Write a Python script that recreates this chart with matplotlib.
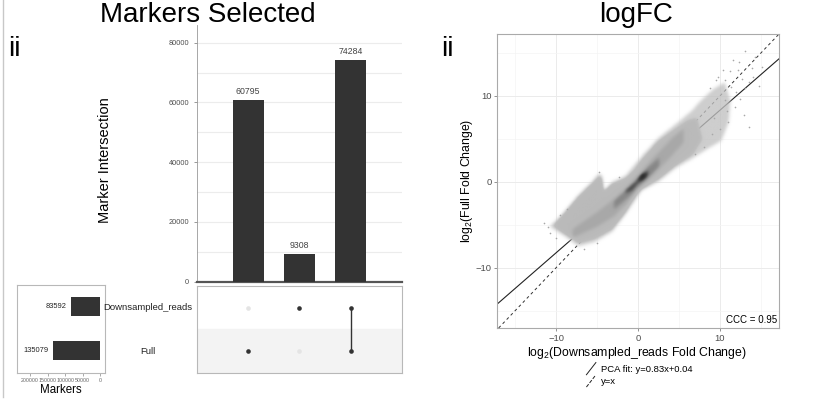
import numpy as np
import matplotlib
matplotlib.use('Agg')
import matplotlib.pyplot as plt
from matplotlib.lines import Line2D
from matplotlib.path import Path
from matplotlib.legend_handler import HandlerBase

plt.rcParams['font.family'] = ['Liberation Sans', 'DejaVu Sans']
plt.rcParams['mathtext.default'] = 'regular'

# ---- UpSet data ----
intersect_counts = [60795, 9308, 74284]
set_names = ['Full', 'Downsampled_reads']          # row 0 bottom, row 1 top
set_sizes = [135079, 83592]
# membership[col] = rows that are in the intersection
membership = [[0], [1], [0, 1]]

# ---- logFC data (cloud outlines) ----
fit_slope, fit_intercept = 0.83, 0.04
ccc = 0.95

sparse_upper_x = [-10.8, -9.3, -7.3, -5.7, -4.8, -4.4, -4.2, -3.2, -1.6, 0.4, 2.4, 4.5, 6.5, 7.5, 9.1, 10.5]
sparse_upper_y = [-5.2, -3.8, -1.5, 0.0, 1.0, 0.6, -1.0, 0.0, 0.7, 3.0, 5.1, 6.7, 8.3, 9.4, 10.8, 11.6]
sparse_lower_x = [-10.8, -8.9, -7.3, -5.3, -3.2, -1.6, 0.4, 2.4, 4.5, 6.5, 8.5, 10.1, 11.0, 11.2]
sparse_lower_y = [-5.2, -6.4, -7.5, -7.0, -5.8, -3.8, -1.0, 0.0, 1.6, 2.7, 3.9, 4.8, 7.0, 9.5]

dense_upper_x = [-10.3, -9.3, -8.3, -7.3, -5.7, -4.8, -4.5, -4.25, -3.6, -3.2, -1.6, -0.5, 0.4, 2.4, 4.5, 6.0, 7.0]
dense_upper_y = [-5.1, -4.0, -2.9, -1.8, -0.3, 0.6, 0.4, -1.2, -0.6, -0.3, 0.3, 1.2, 2.4, 4.6, 6.0, 7.0, 7.3]
dense_lower_x = [-10.3, -8.9, -7.3, -5.3, -3.2, -1.6, -0.4, 0.4, 2.4, 4.5, 6.5, 7.6]
dense_lower_y = [-5.1, -6.0, -7.0, -6.5, -5.4, -3.5, -1.6, -0.8, 0.4, 2.0, 3.3, 5.0]

band_x = [-8.0, -5.0, -3.0, -1.5, 0.0, 2.0, 4.0, 5.5]
band_lo = [-6.5, -5.2, -4.0, -2.6, -0.8, 1.0, 3.0, 4.6]
band_hi = [-5.5, -3.5, -2.0, -0.8, 0.8, 3.0, 5.0, 6.2]

core1_x = [-3.0, -1.0, 0.0, 1.0, 2.5]
core1_lo = [-3.2, -1.6, -0.5, 0.2, 1.8]
core1_hi = [-2.2, -0.4, 0.5, 1.6, 2.8]
core2_x = [-1.6, -0.8, 0.0, 0.6, 1.2]
core2_lo = [-1.3, -1.0, -0.1, 0.2, 0.9]
core2_hi = [-0.9, -0.3, 0.3, 1.1, 1.3]
core3_x = [-0.1, 0.4, 1.0]
core3_lo = [0.25, 0.3, 0.75]
core3_hi = [0.35, 0.95, 0.85]

out_x = [12.3, 13.0, 11.6, 13.9, 15.1, 13.5, 14.8, 12.7, 11.2, 10.6, 12.0, 11.8, 13.1, 10.4, 9.8,
         14.0, 12.5, 11.0, 10.6, 9.5, 13.6, 11.4, 10.9, 12.9, 14.3, 8.8, 9.3, 10.0, 9.0, 8.0, 7.0, 12.2,
         -11.0, -10.7, -10.0, -6.6, -5.0, -9.5, -8.6, -4.8, -2.3, -11.5]
out_y = [14.0, 15.2, 14.2, 13.2, 13.4, 6.4, 11.1, 12.0, 12.9, 11.8, 10.4, 8.7, 10.9, 13.0, 12.2,
         12.2, 9.6, 7.0, 9.5, 11.8, 11.6, 11.0, 8.2, 7.8, 14.5, 10.9, 7.4, 6.2, 5.6, 4.0, 3.2, 13.0,
         -5.3, -6.0, -6.5, -7.8, -7.1, -3.8, -3.2, 1.2, 0.6, -4.8]

fig = plt.figure(figsize=(8.17, 4.03), dpi=100)

# ================= UpSet panel =================
dark = '#333333'
ax_bar = fig.add_axes([0.2411, 0.301, 0.2509, 0.637])
cols = [1, 2, 3]
ax_bar.bar(cols, intersect_counts, width=0.6, color=dark, zorder=3)
for c, v in zip(cols, intersect_counts):
    ax_bar.annotate(str(v), (c, v), xytext=(0, 3), textcoords='offset points',
                    ha='center', va='bottom', fontsize=6.3, color='#444444')
ax_bar.set_xlim(0, 4)
ax_bar.set_ylim(0, 85900)
ax_bar.set_yticks([0, 20000, 40000, 60000, 80000])
ax_bar.set_yticks(range(10000, 85000, 20000), minor=True)
ax_bar.grid(axis='y', which='both', color='#ececec', lw=0.8, zorder=0)
ax_bar.set_xticks([])
ax_bar.tick_params(axis='y', labelsize=5.3, labelcolor='#4d4d4d', color='#888888', length=2, width=0.6)
ax_bar.tick_params(axis='y', which='minor', length=0)
for s in ['top', 'right']:
    ax_bar.spines[s].set_visible(False)
ax_bar.spines['left'].set_color('#999999')
ax_bar.spines['left'].set_linewidth(0.6)
ax_bar.spines['bottom'].set_color('#555555')
ax_bar.spines['bottom'].set_linewidth(1.6)

ax_mat = fig.add_axes([0.2411, 0.0744, 0.2509, 0.2166])
ax_mat.set_xlim(0, 4)
ax_mat.set_ylim(-0.5, 1.5)
ax_mat.axhspan(-0.5, 0.5, color='#f3f3f3', zorder=0)
for c, rows in zip(cols, membership):
    for r in range(len(set_names)):
        ax_mat.scatter(c, r, s=11, color=dark if r in rows else '#e4e4e4', zorder=3, lw=0)
    if len(rows) > 1:
        ax_mat.plot([c, c], [min(rows), max(rows)], color=dark, lw=1.0, zorder=2)
ax_mat.set_xticks([])
ax_mat.set_yticks([])
for s in ax_mat.spines.values():
    s.set_color('#b8b8b8')
    s.set_linewidth(0.8)

ax_set = fig.add_axes([0.0208, 0.0752, 0.1077, 0.2176])
ax_set.barh(range(len(set_names)), set_sizes, height=0.43, color=dark)
for r, v in enumerate(set_sizes):
    ax_set.annotate(str(v), (v, r), xytext=(-3, 0), textcoords='offset points',
                    ha='right', va='center', fontsize=5.4, color='#222222')
ax_set.set_xlim(237000, -13400)
ax_set.set_ylim(-0.5, 1.5)
ax_set.set_xticks([200000, 150000, 100000, 50000, 0])
ax_set.set_yticks([])
ax_set.tick_params(axis='x', labelsize=3.8, labelcolor='#666666', color='#888888', length=2, width=0.5, pad=1.5)
for s in ax_set.spines.values():
    s.set_color('#b8b8b8')
    s.set_linewidth(0.8)

for r, name in enumerate(set_names):
    y = ax_mat.transData.transform((0, r))[1]
    fy = fig.transFigure.inverted().transform((0, y))[1]
    fig.text(0.181, fy, name, ha='center', va='center', fontsize=6.8, color='#222222')

fig.text(0.075, 0.032, 'Markers', ha='center', va='center', fontsize=8.3)
fig.text(0.129, 0.603, 'Marker Intersection', rotation=90, ha='center', va='center', fontsize=10.5)
fig.text(0.254, 0.962, 'Markers Selected', ha='center', va='center', fontsize=20)
fig.text(0.018, 0.878, 'ii', ha='center', va='center', fontsize=20)
fig.add_artist(Line2D([0.004, 0.004], [0.015, 1.0], color='#c8c8c8', lw=1.0, transform=fig.transFigure))

# ================= logFC panel =================
xlim, ylim = (-17.2, 17.2), (-17.0, 17.2)
ax = fig.add_axes([0.6083, 0.1861, 0.3452, 0.7295])

ax.axline((0, 0), slope=1, color='#333333', lw=0.7, ls=(0, (3, 3)), zorder=2)
ax.axline((0, fit_intercept), slope=fit_slope, color='#222222', lw=0.8, zorder=2)

# rasterise the read-off outlines into a smoothed density image
gx = np.linspace(xlim[0], xlim[1], 520)
gy = np.linspace(ylim[0], ylim[1], 520)
XX, YY = np.meshgrid(gx, gy)
pts = np.column_stack([XX.ravel(), YY.ravel()])


def inside(xs, ys):
    return Path(np.column_stack([xs, ys])).contains_points(pts).reshape(XX.shape).astype(float)


def band(xs, lo, hi):
    return inside(list(xs) + list(xs)[::-1], list(lo) + list(hi)[::-1])


dens = (inside(sparse_upper_x + sparse_lower_x[::-1], sparse_upper_y + sparse_lower_y[::-1])
        + inside(dense_upper_x + dense_lower_x[::-1], dense_upper_y + dense_lower_y[::-1])
        + band(band_x, band_lo, band_hi)
        + band(core1_x, core1_lo, core1_hi)
        + 1.5 * band(core2_x, core2_lo, core2_hi)
        + 2.0 * band(core3_x, core3_lo, core3_hi))

k = np.exp(-0.5 * (np.arange(-8, 9) / 3.0) ** 2)
k /= k.sum()
dens = np.apply_along_axis(lambda v: np.convolve(v, k, mode='same'), 0, dens)
dens = np.apply_along_axis(lambda v: np.convolve(v, k, mode='same'), 1, dens)

grey = np.interp(dens, [0, 1, 2, 3, 4, 5.5, 7.5], [196, 192, 186, 168, 135, 70, 25]) / 255.0
alpha = np.clip(dens * 0.78, 0, 1)
rgba = np.dstack([grey, grey, grey, alpha])
ax.imshow(rgba, extent=(xlim[0], xlim[1], ylim[0], ylim[1]), origin='lower',
          aspect='auto', interpolation='bilinear', zorder=3)
ax.scatter(out_x, out_y, s=1.4, color='#a8a8a8', lw=0, zorder=3)

ax.set_xlim(*xlim)
ax.set_ylim(*ylim)
ax.set_xticks([-10, 0, 10])
ax.set_yticks([-10, 0, 10])
ax.set_xticks([-15, -5, 5, 15], minor=True)
ax.set_yticks([-15, -5, 5, 15], minor=True)
ax.grid(which='major', color='#ebebeb', lw=0.7, zorder=0)
ax.grid(which='minor', color='#f4f4f4', lw=0.5, zorder=0)
ax.set_axisbelow(True)
ax.tick_params(labelsize=6.8, labelcolor='#4d4d4d', color='#666666', length=2.5, width=0.5, pad=1.5)
ax.tick_params(which='minor', length=0)
for s in ax.spines.values():
    s.set_color('#aaaaaa')
    s.set_linewidth(0.8)

ax.text(0.995, 0.01, 'CCC = %.2f' % ccc, transform=ax.transAxes, ha='right', va='bottom', fontsize=7)

fig.text(0.780, 0.124, 'log$_2$(Downsampled_reads Fold Change)', ha='center', va='center', fontsize=8.8)
fig.text(0.572, 0.551, 'log$_2$(Full Fold Change)', rotation=90, ha='center', va='center', fontsize=8.8)
fig.text(0.778, 0.962, 'logFC', ha='center', va='center', fontsize=20)
fig.text(0.548, 0.878, 'ii', ha='center', va='center', fontsize=20)


class DiagHandler(HandlerBase):
    def create_artists(self, legend, orig_handle, xdescent, ydescent, width, height, fontsize, trans):
        line = Line2D([-xdescent, -xdescent + width], [-ydescent - 2, -ydescent + height + 2],
                      color=orig_handle.get_color(), lw=orig_handle.get_linewidth(),
                      ls=orig_handle.get_linestyle())
        line.set_transform(trans)
        return [line]


h_fit = Line2D([], [], color='#222222', lw=0.7)
h_id = Line2D([], [], color='#222222', lw=0.7, ls=(0, (2, 2)))
fig.legend([h_fit, h_id], ['PCA fit: y=%.2fx+%.2f' % (fit_slope, fit_intercept), 'y=x'],
           handler_map={Line2D: DiagHandler()}, loc='center left', bbox_to_anchor=(0.712, 0.068),
           frameon=False, fontsize=6.8, handlelength=1.0, handletextpad=0.5, labelspacing=0.35,
           borderpad=0)

fig.savefig('out.png', dpi=100, facecolor='white')
